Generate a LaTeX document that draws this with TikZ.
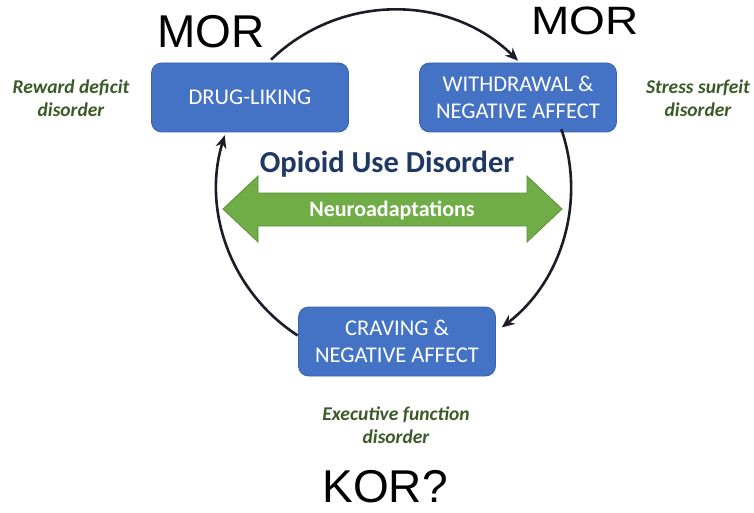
\documentclass[tikz,border=0pt]{standalone}
\usepackage{fontspec}
\setmainfont{Carlito}
\newfontfamily\arialf{Liberation Sans}
\usetikzlibrary{arrows.meta,calc}
\definecolor{boxblue}{HTML}{4472C4}
\definecolor{boxedge}{HTML}{3A63AE}
\definecolor{navy}{HTML}{203864}
\definecolor{arrgreen}{HTML}{70AD47}
\definecolor{arredge}{HTML}{5B8F3A}
\definecolor{lblgreen}{HTML}{3A5A28}
\definecolor{cycline}{HTML}{1C1C28}
\tikzset{
  stagebox/.style={draw=boxedge, line width=0.8pt, fill=boxblue, rounded corners=10pt,
    minimum width=197pt, minimum height=69pt, inner sep=0pt, text=white,
    align=center, font=\fontsize{22.5}{27}\selectfont},
  sidelabel/.style={text=lblgreen, align=center, font=\fontsize{19.5}{23.5}\selectfont\bfseries\itshape},
  bigtag/.style={font=\arialf\fontsize{46}{50}\selectfont, text=black, inner sep=0pt, anchor=base},
  cyc/.style={draw=cycline, line width=2.6pt, -{Stealth[length=13pt,width=11pt]}}
}
\begin{document}
\begin{tikzpicture}[x=1pt,y=1pt]
\useasboundingbox (0,0) rectangle (754,-513);
% circle center
\coordinate (c) at (394,-187);
% stage boxes
\node[stagebox] (drug) at (250,-97.5) {DRUG-LIKING};
\node[stagebox] (with) at (518,-97.5) {WITHDRAWAL \&\\NEGATIVE AFFECT};
\node[stagebox] (crav) at (397,-341.5) {CRAVING \&\\NEGATIVE AFFECT};
% cycle arcs
\draw[cyc] ($(c)+(134:177)$) coordinate (a1) arc[start angle=134, end angle=45.5, radius=177];
\draw[cyc] ($(c)+(19:177)$) coordinate (a2) arc[start angle=19, end angle=-52.5, radius=177];
\draw[cyc] ($(c)+(-123:177)$) coordinate (a3) arc[start angle=-123, end angle=-197, radius=177];
% title
\node[text=navy, font=\fontsize{30.5}{34}\selectfont\bfseries, anchor=base] (title) at (387,-172) {Opioid Use Disorder};
% green double arrow
\draw[draw=arredge, line width=0.8pt, fill=arrgreen]
  (223,-209) -- (258,-176) -- (258,-193) -- (527,-193) -- (527,-176) -- (562,-209)
  -- (527,-242) -- (527,-226) -- (258,-226) -- (258,-242) -- cycle;
\node[text=white, font=\fontsize{22}{26}\selectfont\bfseries] (neuro) at (392,-210) {Neuroadaptations};
% side labels
\node[sidelabel] (rew) at (71,-98) {Reward deficit\\disorder};
\node[sidelabel] (str) at (698,-98) {Stress surfeit\\disorder};
\node[sidelabel] (exe) at (396,-425) {Executive function\\disorder};
% receptor tags
\node[bigtag] (mor1) at (211,-48) {MOR};
\node[bigtag, yscale=0.86] (mor2) at (585,-35) {MOR};
\node[bigtag] (kor) at (385,-502) {KOR?};
\end{tikzpicture}
\end{document}
